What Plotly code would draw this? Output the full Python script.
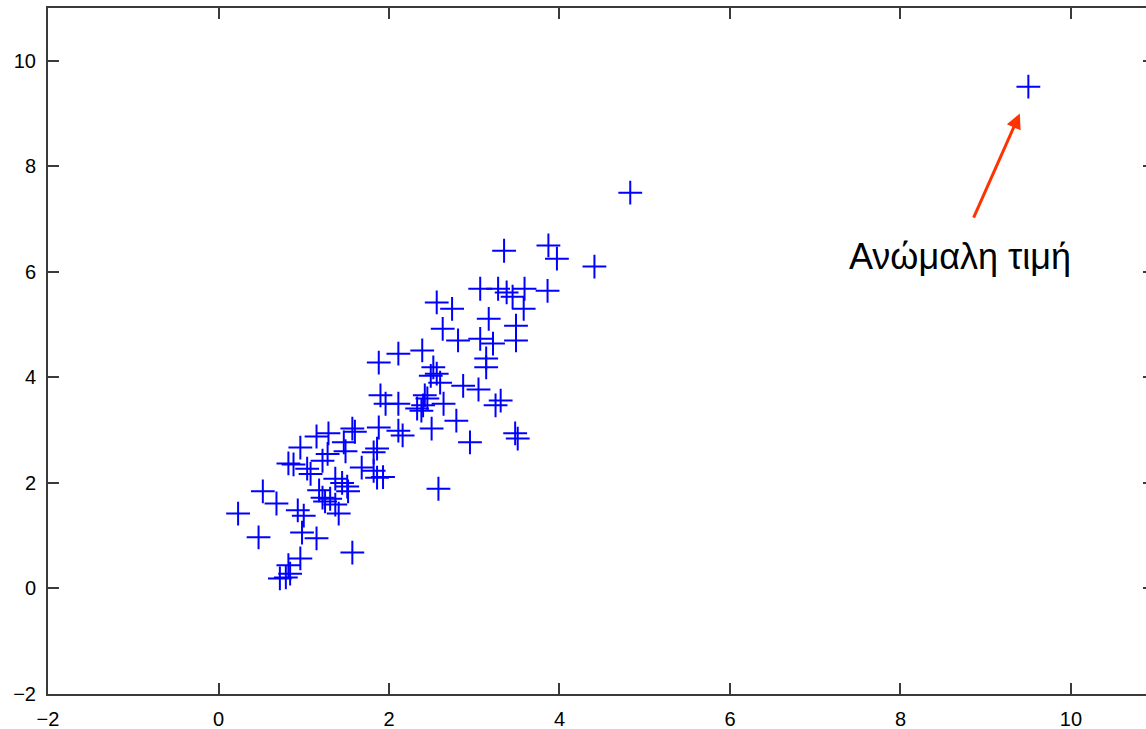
import plotly.graph_objects as go

# data values
x_vals = [0.23, 0.52, 0.47, 0.68, 0.82, 0.88, 0.96, 1.15, 1.29, 0.93, 1.00, 0.98, 1.15, 0.96,
          0.82, 0.84, 0.72, 0.79, 1.57, 1.04, 1.08, 1.22, 1.28, 1.18, 1.22, 1.25, 1.31, 1.37,
          1.41, 1.37, 1.45, 1.51, 1.52, 1.49, 1.47, 1.57, 1.60, 1.68, 1.82, 1.86, 1.93, 1.82,
          1.86, 1.88, 2.11, 2.16, 1.88, 1.90, 1.96, 2.11, 2.11, 2.39, 2.50, 2.58, 2.95, 2.79,
          2.33, 2.38, 2.40, 2.45, 2.42, 2.49, 2.52, 2.56, 2.60, 2.64, 2.87, 3.05, 2.56, 2.74,
          2.63, 2.81, 3.07, 3.22, 3.14, 3.14, 3.17, 3.25, 3.31, 3.49, 3.49, 3.48, 3.51, 3.58,
          3.07, 3.28, 3.38, 3.45, 3.59, 3.86, 3.35, 3.87, 3.97, 4.41, 4.83, 9.50]
y_vals = [1.42, 1.84, 0.97, 1.61, 2.37, 2.35, 2.67, 2.88, 2.94, 1.48, 1.38, 1.06, 0.95, 0.57,
          0.44, 0.28, 0.19, 0.21, 0.68, 2.27, 2.17, 2.42, 2.55, 1.86, 1.72, 1.65, 1.70, 1.59,
          1.42, 2.08, 2.00, 1.93, 1.84, 2.60, 2.77, 3.03, 2.97, 2.29, 2.23, 2.10, 2.11, 2.58,
          2.65, 3.05, 2.99, 2.90, 4.28, 3.66, 3.50, 3.50, 4.45, 4.51, 3.03, 1.89, 2.77, 3.18,
          3.41, 3.37, 3.47, 3.60, 3.66, 4.03, 4.19, 4.07, 3.90, 3.50, 3.84, 3.77, 5.42, 5.30,
          4.92, 4.70, 4.73, 4.64, 4.36, 4.19, 5.11, 3.47, 3.56, 4.70, 4.98, 2.94, 2.84, 5.30,
          5.68, 5.68, 5.61, 5.53, 5.68, 5.64, 6.40, 6.50, 6.25, 6.10, 7.50, 9.51]

x_ticks = [-2, 0, 2, 4, 6, 8, 10]
y_ticks = [-2, 0, 2, 4, 6, 8, 10]

anomaly_label = "Ανώμαλη τιμή"
arrow_head = (9.40, 9.0)
arrow_tail = (8.85, 7.0)
label_pos = (8.70, 6.29)

fig = go.Figure()
fig.add_trace(go.Scatter(
    x=x_vals, y=y_vals, mode="markers",
    marker=dict(symbol="cross-thin", size=17, color="rgb(0,0,255)",
                line=dict(color="rgb(0,0,255)", width=2)),
    showlegend=False, hoverinfo="skip",
))
# empty trace so the right-hand tick axis is drawn
fig.add_trace(go.Scatter(x=[None], y=[None], yaxis="y2", mode="markers",
                         showlegend=False, hoverinfo="skip"))

fig.add_annotation(
    x=arrow_head[0], y=arrow_head[1], ax=arrow_tail[0], ay=arrow_tail[1],
    xref="x", yref="y", axref="x", ayref="y",
    text="", showarrow=True, arrowhead=2, arrowsize=1, arrowwidth=3,
    arrowcolor="#FF3300",
)
fig.add_annotation(
    x=label_pos[0], y=label_pos[1], xref="x", yref="y",
    text=anomaly_label, showarrow=False, xanchor="center", yanchor="middle",
    font=dict(family="Liberation Sans, Arial, sans-serif", size=36, color="black"),
)

axis_common = dict(
    showgrid=False, zeroline=False, showline=True, linecolor="#3a3a3a", linewidth=2,
    ticks="inside", ticklen=11, tickwidth=1.5, tickcolor="#3a3a3a",
    tickfont=dict(family="Liberation Sans, Arial, sans-serif", size=20, color="black"),
    ticklabelstandoff=6,
)

fig.update_layout(
    width=1146, height=729,
    margin=dict(l=48, r=0, t=8, b=35),
    paper_bgcolor="white", plot_bgcolor="white",
    xaxis=dict(range=[-2, 10.88], tickvals=x_ticks, mirror="ticks", **axis_common),
    yaxis=dict(range=[-2, 11], tickvals=y_ticks, mirror=False, **axis_common),
    yaxis2=dict(range=[-2, 11], tickvals=y_ticks, overlaying="y", side="right",
                showgrid=False, zeroline=False, showline=False, showticklabels=False,
                ticks="inside", ticklen=3, tickwidth=1.5, tickcolor="#3a3a3a"),
)

fig.write_html("out.html")
